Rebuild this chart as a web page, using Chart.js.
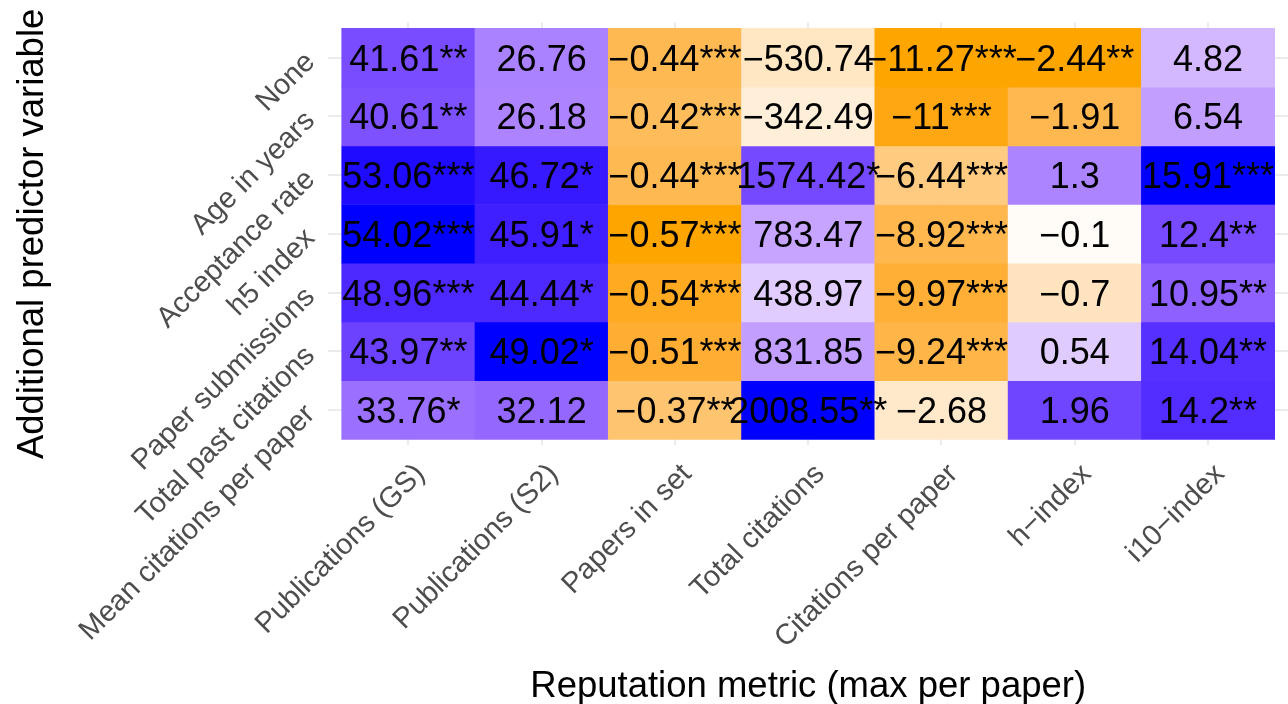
<!DOCTYPE html>
<html><head><meta charset="utf-8">
<script src="https://cdn.jsdelivr.net/npm/chart.js@4/dist/chart.umd.min.js"></script>
<style>html,body{margin:0;padding:0;background:#fff;overflow:hidden;} #wrap{width:1288px;height:704px;position:relative;}</style>
</head><body><div id="wrap"><canvas id="c" width="1288" height="704"></canvas></div>
<script>
// ---- DATA ----
const metrics = ['Publications (GS)', 'Publications (S2)', 'Papers in set', 'Total citations', 'Citations per paper', 'h\u2212index', 'i10\u2212index'];
const predictors = ['None', 'Age in years', 'Acceptance rate', 'h5 index', 'Paper submissions', 'Total past citations', 'Mean citations per paper'];

const valuesNone        = [41.61, 26.76, -0.44, -530.74, -11.27, -2.44, 4.82];
const valuesAge         = [40.61, 26.18, -0.42, -342.49, -11, -1.91, 6.54];
const valuesAcceptance  = [53.06, 46.72, -0.44, 1574.42, -6.44, 1.3, 15.91];
const valuesH5          = [54.02, 45.91, -0.57, 783.47, -8.92, -0.1, 12.4];
const valuesSubmissions = [48.96, 44.44, -0.54, 438.97, -9.97, -0.7, 10.95];
const valuesTotalPast   = [43.97, 49.02, -0.51, 831.85, -9.24, 0.54, 14.04];
const valuesMeanCit     = [33.76, 32.12, -0.37, 2008.55, -2.68, 1.96, 14.2];

const starsNone        = ['**', '', '***', '', '***', '**', ''];
const starsAge         = ['**', '', '***', '', '***', '', ''];
const starsAcceptance  = ['***', '*', '***', '*', '***', '', '***'];
const starsH5          = ['***', '*', '***', '', '***', '', '**'];
const starsSubmissions = ['***', '*', '***', '', '***', '', '**'];
const starsTotalPast   = ['**', '*', '***', '', '***', '', '**'];
const starsMeanCit     = ['*', '', '**', '**', '', '', '**'];

const rowValues = [valuesNone, valuesAge, valuesAcceptance, valuesH5, valuesSubmissions, valuesTotalPast, valuesMeanCit];
const rowStars  = [starsNone, starsAge, starsAcceptance, starsH5, starsSubmissions, starsTotalPast, starsMeanCit];

// ---- COLOUR (Lab interpolation, orange - white - blue, per-column scaling) ----
function toLin(c){ c/=255; return c<=0.04045? c/12.92 : Math.pow((c+0.055)/1.055,2.4); }
function toSrgb(c){ c = Math.min(1, Math.max(0, c)); const v = c<=0.0031308? 12.92*c : 1.055*Math.pow(c,1/2.4)-0.055; return Math.round(Math.min(1,Math.max(0,v))*255); }
const Xn=0.95047, Yn=1, Zn=1.08883;
function rgb2lab([R,G,B]){
  const r=toLin(R), g=toLin(G), b=toLin(B);
  const X=(0.4124*r+0.3576*g+0.1805*b)/Xn, Y=(0.2126*r+0.7152*g+0.0722*b)/Yn, Z=(0.0193*r+0.1192*g+0.9505*b)/Zn;
  const f=t=> t>0.008856? Math.cbrt(t) : 7.787*t+16/116;
  const fx=f(X), fy=f(Y), fz=f(Z);
  return [116*fy-16, 500*(fx-fy), 200*(fy-fz)];
}
function lab2rgb([L,a,b]){
  const fy=(L+16)/116, fx=fy+a/500, fz=fy-b/200;
  const fi=t=> t*t*t>0.008856? t*t*t : (t-16/116)/7.787;
  const X=fi(fx)*Xn, Y=fi(fy)*Yn, Z=fi(fz)*Zn;
  const r= 3.2406*X-1.5372*Y-0.4986*Z;
  const g=-0.9689*X+1.8758*Y+0.0415*Z;
  const bb=0.0557*X-0.2040*Y+1.0570*Z;
  return [toSrgb(r), toSrgb(g), toSrgb(bb)];
}
const labWhite = rgb2lab([255,255,255]), labBlue = rgb2lab([0,0,255]), labOrange = rgb2lab([255,165,0]);
function fillColor(v, maxAbs){
  const t = Math.min(1, Math.abs(v)/maxAbs);
  const end = v>=0 ? labBlue : labOrange;
  const lab = labWhite.map((w,i)=> w + (end[i]-w)*t);
  const [r,g,b] = lab2rgb(lab);
  return `rgb(${r},${g},${b})`;
}
const colMax = metrics.map((m,c)=> Math.max(...rowValues.map(row=>Math.abs(row[c]))));
const fmt = v => String(v).replace('-', '\u2212');

const FONT = '"Liberation Sans", Arial, Helvetica, sans-serif';

const cellText = {
  id: 'cellText',
  afterDatasetsDraw(chart){
    const ctx = chart.ctx;
    ctx.save();
    ctx.font = '36px ' + FONT;
    ctx.fillStyle = '#000';
    ctx.textAlign = 'center';
    ctx.textBaseline = 'alphabetic';
    chart.data.datasets.forEach((ds, r) => {
      const meta = chart.getDatasetMeta(r);
      meta.data.forEach((el, c) => {
        const p = el.getProps(['x','y','base'], true);
        const cy = (p.y + p.base)/2;
        ctx.fillText(fmt(rowValues[r][c]) + rowStars[r][c], p.x, cy + 0.358*36);
      });
    });
    ctx.restore();
  }
};

const datasets = predictors.map((p, r) => ({
  label: p,
  data: metrics.map((m, c) => ({x: c, y: [r - 0.5, r + 0.5]})),
  backgroundColor: metrics.map((m, c) => fillColor(rowValues[r][c], colMax[c])),
  borderWidth: 0,
  grouped: false,
  barPercentage: 1,
  categoryPercentage: 1
}));

new Chart(document.getElementById('c'), {
  type: 'bar',
  data: { datasets },
  plugins: [cellText],
  options: {
    responsive: false,
    animation: false,
    devicePixelRatio: 1,
    layout: { padding: { top: 22.5, right: -7.2, bottom: 0, left: 0 } },
    plugins: { legend: { display: false }, tooltip: { enabled: false } },
    scales: {
      x: {
        type: 'linear', position: 'bottom', min: -0.6, max: 6.6, offset: false,
        afterBuildTicks: s => { s.ticks = metrics.map((m, i) => ({ value: i })); },
        afterFit: s => { s.height = 258.7; s.paddingLeft = 0; s.paddingRight = 0; },
        ticks: {
          callback: v => metrics[v], autoSkip: false, minRotation: 45, maxRotation: 45,
          padding: 12, labelOffset: 12, color: '#4D4D4D', font: { family: FONT, size: 29 }
        },
        grid: { color: '#EBEBEB', lineWidth: 2, drawTicks: false, offset: false },
        border: { display: false },
        title: { display: true, text: 'Reputation metric (max per paper)', color: '#000',
                 font: { family: FONT, size: 36.5 }, padding: { top: 0, bottom: -5 } }
      },
      y: {
        type: 'linear', position: 'left', reverse: true, min: -0.6, max: 6.6,
        afterBuildTicks: s => { s.ticks = predictors.map((p, i) => ({ value: i })); },
        afterFit: s => { s.width = 328.4; s.paddingTop = 0; s.paddingBottom = 0; },
        ticks: {
          callback: v => predictors[v], autoSkip: false, minRotation: 45, maxRotation: 45,
          padding: 18, color: '#4D4D4D', font: { family: FONT, size: 29 }
        },
        grid: { color: '#EBEBEB', lineWidth: 2, drawTicks: false },
        border: { display: false },
        title: { display: true, text: 'Additional predictor variable', color: '#000',
                 font: { family: FONT, size: 36.5 }, padding: { top: 11, bottom: 0 } }
      }
    }
  }
});
</script>
</body></html>
